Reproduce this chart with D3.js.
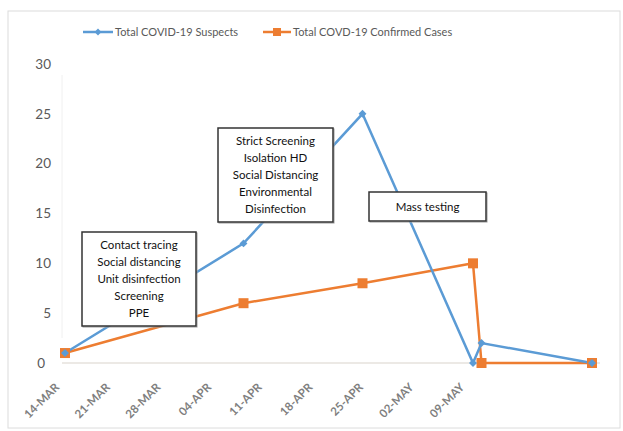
<!DOCTYPE html>
<html><head><meta charset="utf-8">
<script src="https://cdn.jsdelivr.net/npm/d3@7"></script>
<style>body{margin:0;background:#fff}</style>
</head><body><svg id="c" width="623" height="431"></svg>
<script>
const dates = ["2020-03-14","2020-04-04","2020-04-18","2020-05-01","2020-05-02","2020-05-15"];
const suspects = [1, 12, 25, 0, 2, 0];
const confirmed = [1, 6, 8, 10, 0, 0];
const tickLabels = ["14-MAR","21-MAR","28-MAR","04-APR","11-APR","18-APR","25-APR","02-MAY","09-MAY"];
const yTicks = [0,5,10,15,20,25,30];
const seriesNames = ["Total COVID-19 Suspects","Total COVD-19 Confirmed Cases"];
const notes = [
  {lines:["Contact tracing","Social distancing","Unit disinfection","Screening","PPE"]},
  {lines:["Strict Screening","Isolation HD","Social Distancing","Environmental","Disinfection"]},
  {lines:["Mass testing"]}
];
const boxes = [{x0:82,y0:232,x1:196,y1:326},{x0:218,y0:128,x1:333,y1:222},{x0:369,y0:192,x1:486,y1:221}];

const BLUE="#5b9bd5", ORANGE="#ed7d31", FONT="Lato, 'Open Sans', sans-serif";
const svg = d3.select("#c");
const parse = d3.timeParse("%Y-%m-%d");
const dd = dates.map(parse);

const x = d3.scaleTime().domain([parse("2020-03-14"), parse("2020-05-15")]).range([65, 592]);
const y = d3.scaleLinear().domain([0,30]).range([363,64]);
const xl = d3.scalePoint().domain(tickLabels).range([60, 465]);

svg.append("rect").attr("x",8).attr("y",11).attr("width",612).attr("height",417)
  .attr("fill","#fff").attr("stroke","#dcdcdc");
svg.append("line").attr("x1",62).attr("x2",62).attr("y1",75).attr("y2",338).attr("stroke","#f0f0f0");

// baseline
svg.append("line").attr("x1",62).attr("x2",600).attr("y1",y(0)).attr("y2",y(0))
  .attr("stroke","#d9d3cc").attr("stroke-width",1.2);

// y labels
svg.append("g").selectAll("text").data(yTicks).join("text")
  .attr("x",d=>d===0?45:51).attr("y",d=>y(d)).attr("dy","0.35em")
  .attr("text-anchor","end").attr("font-family",FONT).attr("font-size",13.5)
  .attr("fill","#595959").text(d=>d);

// x labels
svg.append("g").selectAll("text").data(tickLabels).join("text")
  .attr("transform",d=>`translate(${xl(d)},388) rotate(-45)`)
  .attr("text-anchor","end").attr("font-family",FONT).attr("font-size",11.5).attr("font-weight","bold")
  .attr("fill","#7f7f7f").text(d=>d);

const line = d3.line().x(d=>x(d[0])).y(d=>y(d[1]));
const sData = dd.map((d,i)=>[d,suspects[i]]);
const cData = dd.map((d,i)=>[d,confirmed[i]]);

svg.append("path").datum(cData).attr("d",line).attr("fill","none").attr("stroke",ORANGE).attr("stroke-width",2.5);
svg.append("path").datum(sData).attr("d",line).attr("fill","none").attr("stroke",BLUE).attr("stroke-width",2.5);

svg.append("g").selectAll("rect").data(cData).join("rect")
  .attr("x",d=>x(d[0])-5).attr("y",d=>y(d[1])-5).attr("width",10).attr("height",10).attr("fill",ORANGE);
svg.append("g").selectAll("path").data(sData).join("path")
  .attr("d",d3.symbol(d3.symbolDiamond2,40)).attr("transform",d=>`translate(${x(d[0])},${y(d[1])})`).attr("fill",BLUE);

// note boxes
const nb = svg.append("g").selectAll("g").data(notes).join("g");
nb.each(function(n,i){
  const b = boxes[i], g = d3.select(this);
  g.append("rect").attr("x",b.x0+1).attr("y",b.y0+1).attr("width",b.x1-b.x0).attr("height",b.y1-b.y0)
    .attr("fill","none").attr("stroke","#999").attr("stroke-width",1);
  g.append("rect").attr("x",b.x0).attr("y",b.y0).attr("width",b.x1-b.x0).attr("height",b.y1-b.y0)
    .attr("fill","#fff").attr("stroke","#333").attr("stroke-width",1.5);
  const cx=(b.x0+b.x1)/2, cy=(b.y0+b.y1)/2, lh=17.2;
  g.selectAll("text").data(n.lines).join("text")
    .attr("x",cx).attr("y",(d,j)=>cy+(j-(n.lines.length-1)/2)*lh).attr("dy","0.35em")
    .attr("text-anchor","middle").attr("font-family",FONT).attr("font-size",11.5)
    .attr("fill","#111").text(d=>d);
});

// legend
const leg = [{x0:83,x1:113,c:BLUE,t:seriesNames[0],m:"d"},{x0:263,x1:291,c:ORANGE,t:seriesNames[1],m:"s"}];
const lg = svg.append("g").selectAll("g").data(leg).join("g");
lg.append("line").attr("x1",d=>d.x0).attr("x2",d=>d.x1).attr("y1",32).attr("y2",32).attr("stroke",d=>d.c).attr("stroke-width",2.5);
lg.filter(d=>d.m==="d").append("path").attr("d",d3.symbol(d3.symbolDiamond2,30)).attr("transform",d=>`translate(${(d.x0+d.x1)/2},32)`).attr("fill",d=>d.c);
lg.filter(d=>d.m==="s").append("rect").attr("x",d=>(d.x0+d.x1)/2-4).attr("y",28).attr("width",8).attr("height",8).attr("fill",d=>d.c);
lg.append("text").attr("x",d=>d.x1+2).attr("y",32).attr("dy","0.35em").attr("font-family",FONT).attr("font-size",11)
  .attr("fill","#595959").text(d=>d.t);
</script></body></html>
